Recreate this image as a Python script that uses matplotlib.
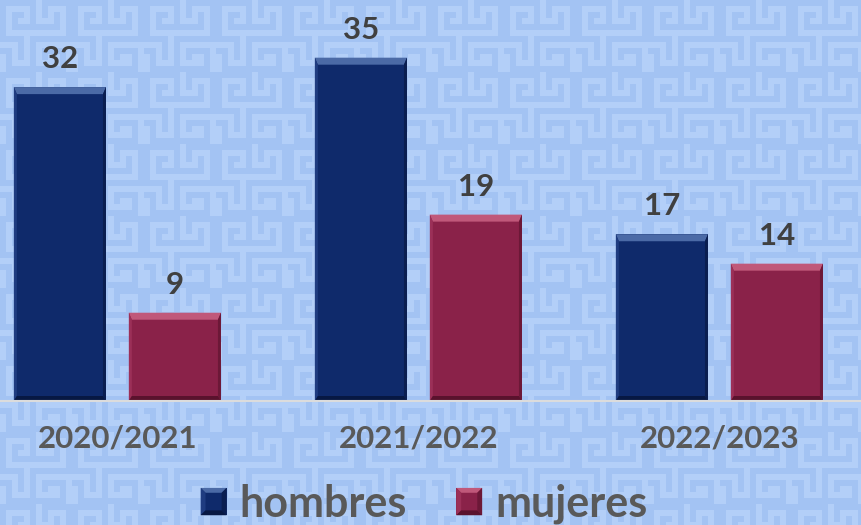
import numpy as np
import matplotlib
matplotlib.use('Agg')
import matplotlib.pyplot as plt
from matplotlib.patches import Polygon, Rectangle
from matplotlib.legend_handler import HandlerBase
from matplotlib.transforms import IdentityTransform

cursos = ['2020/2021', '2021/2022', '2022/2023']
hombres = [32, 35, 17]
mujeres = [9, 19, 14]
series = ['hombres', 'mujeres']

# base, top, left, right, bottom shades for the bevelled bars
tonos = {
    'hombres': ['#0f2a6b', '#4b6aa6', '#1f3c80', '#0a1e50', '#071843'],
    'mujeres': ['#8a2249', '#c0587a', '#9b3058', '#6c1837', '#5a122d'],
}

W, H, DPI = 862, 525, 100
plt.rcParams['font.family'] = ['Lato', 'DejaVu Sans']
plt.rcParams['font.weight'] = 'bold'

fig = plt.figure(figsize=(W / DPI, H / DPI), dpi=DPI)

# meander texture for the background (0 = light line)
tile = [
    "111111011111",
    "100001010001",
    "101101010101",
    "101001000101",
    "101111111101",
    "100000000001",
    "111101111111",
    "000101000000",
    "110101011110",
    "010101010010",
    "010001000010",
    "011111111110",
]
cell = 6
t = 1 - np.array([[int(c) for c in row] for row in tile])
t = np.kron(t, np.ones((cell, cell)))
mask = np.tile(t, (H // t.shape[0] + 1, W // t.shape[1] + 1))[:H, :W]
base = np.array([0xa3, 0xc3, 0xf3]) / 255
linea = np.array([0xb3, 0xcf, 0xf8]) / 255
img = base[None, None, :] * (1 - mask[..., None]) + linea[None, None, :] * mask[..., None]
fig.figimage(img, xo=0, yo=0, zorder=-10)

ax = fig.add_axes([0, 124 / H, 1, (H - 124) / H])
ax.patch.set_alpha(0)
ax.set_zorder(1)

x = np.arange(len(cursos))
ancho = 0.306
desp = 0.191
b1 = ax.bar(x - desp, hombres, ancho, color=tonos['hombres'][0], zorder=2)
b2 = ax.bar(x + desp, mujeres, ancho, color=tonos['mujeres'][0], zorder=2)

ax.set_xlim(-0.39, -0.39 + W / 301)
ax.set_ylim(0, 40.88)


def biselar(rect, t):
    (x0, y0), (x1, y1) = ax.transData.transform(
        [(rect.get_x(), rect.get_y()),
         (rect.get_x() + rect.get_width(), rect.get_y() + rect.get_height())])
    bt, bs, bb = 7, 3, 5
    caras = [
        (t[1], [(x0, y1), (x1, y1), (x1 - bs, y1 - bt), (x0 + bs, y1 - bt)]),
        (t[2], [(x0, y0), (x0, y1), (x0 + bs, y1 - bt), (x0 + bs, y0 + bb)]),
        (t[3], [(x1, y0), (x1, y1), (x1 - bs, y1 - bt), (x1 - bs, y0 + bb)]),
        (t[4], [(x0, y0), (x1, y0), (x1 - bs, y0 + bb), (x0 + bs, y0 + bb)]),
    ]
    for c, pts in caras:
        ax.add_patch(Polygon(pts, closed=True, facecolor=c, edgecolor='none',
                             transform=IdentityTransform(), zorder=3))


for barras, nombre, vals in [(b1, 'hombres', hombres), (b2, 'mujeres', mujeres)]:
    for rect, v in zip(barras, vals):
        biselar(rect, tonos[nombre])
        ax.annotate(str(v), (rect.get_x() + rect.get_width() / 2, v),
                    xytext=(0, 13.7), textcoords='offset points',
                    ha='center', va='baseline', fontsize=22.5, color='#404040')

ax.set_xticks(x, cursos)
ax.set_yticks([])
ax.tick_params(axis='x', length=0, pad=17, labelsize=22.5, labelcolor='#595959')
for s in ['top', 'left', 'right']:
    ax.spines[s].set_visible(False)
ax.spines['bottom'].set_color('#dcdcdc')
ax.spines['bottom'].set_linewidth(1.5)
ax.spines['bottom'].set_zorder(4)


class ManejadorBisel(HandlerBase):
    def create_artists(self, legend, orig_handle, xdescent, ydescent,
                       width, height, fontsize, trans):
        t = tonos[orig_handle.get_label()]
        x0, y0 = -xdescent, -ydescent
        x1, y1 = x0 + width, y0 + height
        b = 3.5
        caras = [
            (t[0], [(x0, y0), (x1, y0), (x1, y1), (x0, y1)]),
            (t[1], [(x0, y1), (x1, y1), (x1 - b, y1 - b), (x0 + b, y1 - b)]),
            (t[2], [(x0, y0), (x0, y1), (x0 + b, y1 - b), (x0 + b, y0 + b)]),
            (t[3], [(x1, y0), (x1, y1), (x1 - b, y1 - b), (x1 - b, y0 + b)]),
            (t[4], [(x0, y0), (x1, y0), (x1 - b, y0 + b), (x0 + b, y0 + b)]),
        ]
        return [Polygon(p, closed=True, facecolor=c, edgecolor='none', transform=trans)
                for c, p in caras]


handles = [Rectangle((0, 0), 1, 1, label=s) for s in series]
fig.legend(handles, series, handler_map={Rectangle: ManejadorBisel()},
           loc='center', bbox_to_anchor=(424 / W, (H - 504) / H), ncol=2,
           frameon=False, fontsize=31, labelcolor='#595959',
           handlelength=0.6, handleheight=0.6, handletextpad=0.3,
           columnspacing=1.15)

fig.savefig('out.png', dpi=DPI)
